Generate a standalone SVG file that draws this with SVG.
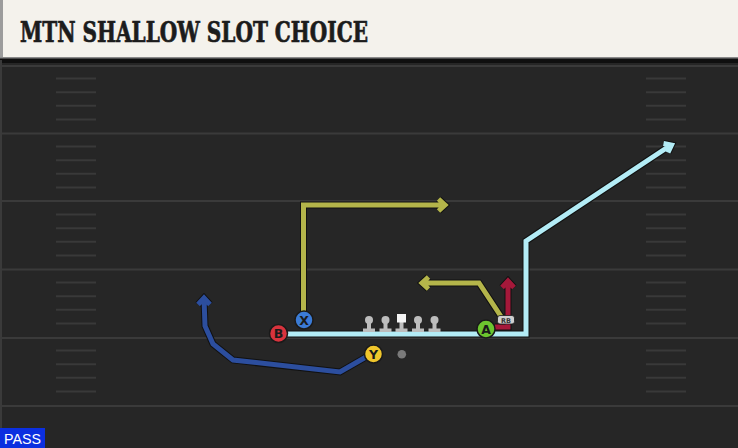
<svg xmlns="http://www.w3.org/2000/svg" width="738" height="448" viewBox="0 0 738 448">
<style>
.yard{stroke:#3a3a3a;stroke-width:2}
.hash{stroke:#393939;stroke-width:2}
.ol{fill:none;stroke:#111;stroke-width:7;stroke-linejoin:miter;stroke-linecap:butt}
.rt{fill:none;stroke-width:5;stroke-linejoin:miter;stroke-linecap:butt}
.pl{stroke:#1a1a1a;stroke-width:1.5}
.lt{font-family:"DejaVu Sans","Liberation Sans",sans-serif;font-weight:bold;font-size:12.5px;fill:#1a1a1a;text-anchor:middle}
.ln{fill:#bdbdbd}
</style>
<defs>
<g id="hashes">
<line class="hash" x1="0" y1="13.6" x2="40" y2="13.6"/>
<line class="hash" x1="0" y1="27.2" x2="40" y2="27.2"/>
<line class="hash" x1="0" y1="40.8" x2="40" y2="40.8"/>
<line class="hash" x1="0" y1="54.4" x2="40" y2="54.4"/>
</g>
<g id="lineman">
<rect class="ln" x="-2" y="320" width="4" height="10"/>
<rect class="ln" x="-6" y="328.5" width="12" height="3.5"/>
</g>
</defs>
<rect width="738" height="448" fill="#262626"/>
<rect x="0" y="58" width="738" height="5" fill="#0f0f0f"/>
<rect x="0" y="60" width="2" height="388" fill="#3a3a3a"/>
<g id="field">
<line class="yard" x1="0" y1="66" x2="738" y2="66"/>
<line class="yard" x1="0" y1="133.5" x2="738" y2="133.5"/>
<line class="yard" x1="0" y1="201" x2="738" y2="201"/>
<line class="yard" x1="0" y1="269.5" x2="738" y2="269.5"/>
<line class="yard" x1="0" y1="338" x2="738" y2="338"/>
<line class="yard" x1="0" y1="406" x2="738" y2="406"/>
<use href="#hashes" x="56" y="65"/>
<use href="#hashes" x="56" y="133"/>
<use href="#hashes" x="56" y="201"/>
<use href="#hashes" x="56" y="269"/>
<use href="#hashes" x="56" y="337"/>
<use href="#hashes" x="646" y="65"/>
<use href="#hashes" x="646" y="133"/>
<use href="#hashes" x="646" y="201"/>
<use href="#hashes" x="646" y="269"/>
<use href="#hashes" x="646" y="337"/>
</g>
<g id="header">
<rect x="0" y="0" width="738" height="58" fill="#f4f2ec"/>
<rect x="0" y="0" width="3" height="58" fill="#9c9c9c"/>
<rect x="0" y="57" width="738" height="1.5" fill="#8a8a8a"/>
<text x="20" y="42" font-family="'DejaVu Serif','Liberation Serif',serif" font-weight="bold" font-size="27" fill="#1c1c1c" stroke="#1c1c1c" stroke-width="0.7" textLength="348" lengthAdjust="spacingAndGlyphs">MTN SHALLOW SLOT CHOICE</text>
</g>
<g id="connectors">
<g id="route-B">
<path class="ol" d="M287 334 H526 V241 L671 145 M663.5 143.5 L671.5 145 L668 152.5"/>
<path class="rt" stroke="#b3ecf6" d="M287 334 H526 V241 L671 145 M663.5 143.5 L671.5 145 L668 152.5"/>
</g>
<g id="route-X">
<path class="ol" d="M303.5 312 V205 H445 M438.5 199 L445 205 L438.5 211"/>
<path class="rt" stroke="#b4b54a" d="M303.5 312 V205 H445 M438.5 199 L445 205 L438.5 211"/>
</g>
<g id="route-A">
<path class="ol" d="M502 318 L479 283 H422 M428.5 277 L422 283 L428.5 289"/>
<path class="rt" stroke="#b4b54a" d="M502 318 L479 283 H422 M428.5 277 L422 283 L428.5 289"/>
</g>
<g id="route-RB">
<path class="ol" d="M495 327 H508 V281 M502 287.5 L508 281 L514 287.5"/>
<path class="rt" stroke="#a5183a" d="M495 327 H508 V281 M502 287.5 L508 281 L514 287.5"/>
</g>
<g id="route-Y">
<path class="ol" d="M366 357 L340 372 L233 360 L213 344 L205 326 L204 298 M198 304.5 L204 298 L210 304.5"/>
<path class="rt" stroke="#2c4e9e" d="M366 357 L340 372 L233 360 L213 344 L205 326 L204 298 M198 304.5 L204 298 L210 304.5"/>
</g>
</g>
<g id="ol-line">
<g id="lt"><use href="#lineman" x="369"/><circle class="ln" cx="369" cy="320" r="4"/></g>
<g id="lg"><use href="#lineman" x="385.5"/><circle class="ln" cx="385.5" cy="320" r="4"/></g>
<g id="c"><use href="#lineman" x="401.5"/><rect x="397" y="314" width="9" height="8.5" fill="#f4f4f4"/></g>
<g id="rg"><use href="#lineman" x="418"/><circle class="ln" cx="418" cy="320" r="4"/></g>
<g id="rt"><use href="#lineman" x="434.5"/><circle class="ln" cx="434.5" cy="320" r="4"/></g>
</g>
<g id="node-B"><circle class="pl" cx="278.5" cy="333.5" r="9" fill="#d8333d"/><text class="lt" x="278.5" y="338">B</text></g>
<g id="node-X"><circle class="pl" cx="304" cy="320" r="9" fill="#3b7bd6"/><text class="lt" x="304" y="324.5">X</text></g>
<g id="node-Y"><circle class="pl" cx="373.5" cy="354" r="9" fill="#f0c62c"/><text class="lt" x="373.5" y="358.5">Y</text></g>
<g id="node-A"><circle class="pl" cx="486" cy="329" r="9" fill="#6cc52f"/><text class="lt" x="486" y="333.5">A</text></g>
<g id="node-QB"><circle cx="401.8" cy="354.3" r="4.3" fill="#7a7a7a"/></g>
<g id="node-RB"><rect x="497.5" y="315.5" width="17" height="8.5" rx="2.5" fill="#cfcfcf" stroke="#1a1a1a" stroke-width="0.8"/><text x="506" y="322.5" font-family="'DejaVu Sans','Liberation Sans',sans-serif" font-weight="bold" font-size="6.5" fill="#333" text-anchor="middle">RB</text></g>
<g id="pass-tag"><rect x="0" y="428" width="45" height="20" fill="#0b2fe0"/><text x="4" y="444" font-family="'Liberation Sans',Arial,sans-serif" font-size="15.5" fill="#ffffff" textLength="37" lengthAdjust="spacingAndGlyphs">PASS</text></g>
</svg>
